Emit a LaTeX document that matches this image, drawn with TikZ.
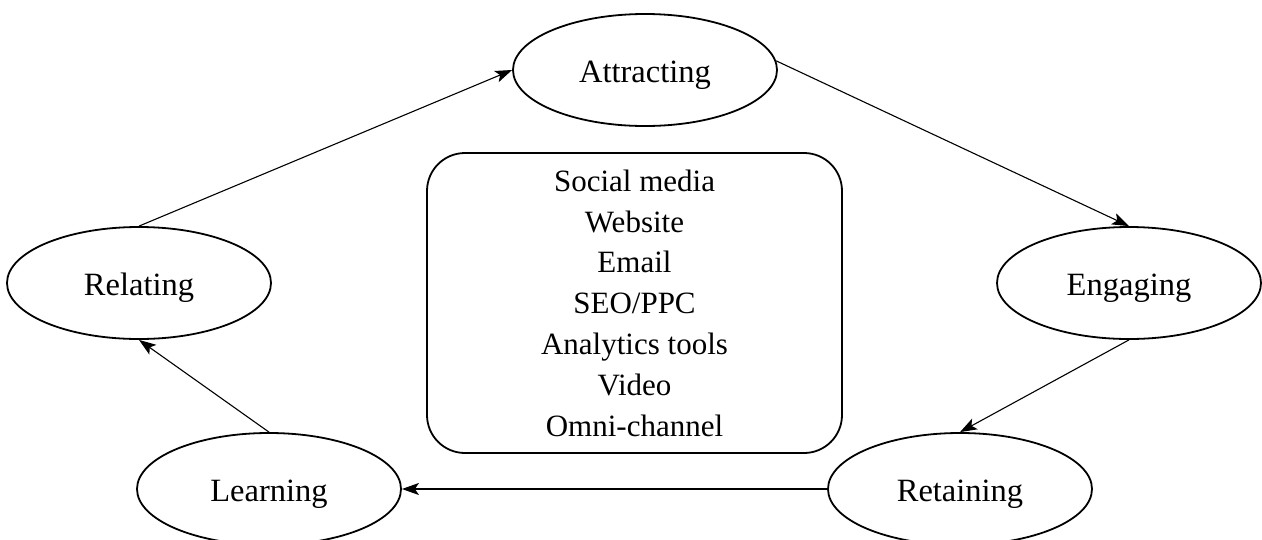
\documentclass[tikz,border=0pt]{standalone}
\usepackage{fontspec}
\setmainfont{Liberation Serif}
\usepackage{tikz}
\usetikzlibrary{arrows.meta,shapes}

\tikzset{
  stage/.style={draw, ellipse, line width=1.8pt, minimum width=264pt,
    minimum height=112pt, inner sep=0pt, text height=24pt, text depth=0pt,
    font=\fontsize{32.5}{40.8}\selectfont},
  tools/.style={draw, rounded corners=38pt, line width=1.8pt, minimum width=415pt,
    minimum height=300pt, align=center},
  flow/.style={line width=1.1pt, -{Stealth[length=17pt,width=12pt,inset=4pt]}}
}

\begin{document}
\begin{tikzpicture}[x=1pt, y=-1pt, font=\fontsize{31}{40.8}\selectfont]
   \useasboundingbox (0,0) rectangle (1262,539);
   % Stages
   \node[stage] (attract) at (645,70) {Attracting};
   \node[stage] (engage) at (1129,283) {Engaging};
   \node[stage] (retain) at (960,489) {Retaining};
   \node[stage] (learn) at (269,489) {Learning};
   \node[stage] (relate) at (139,283) {Relating};
   % Channels
   \node[tools] (channels) at (634.5,303) {Social media\\Website\\Email\\SEO/PPC\\Analytics tools\\Video\\Omni-channel};
   % Cycle
   \draw[flow] (relate.north) -- (attract.west);
   \draw[flow] (attract.4) -- (engage.north);
   \draw[flow] (engage.south) -- (retain.north);
   \draw[flow] (retain.west) -- (learn.east);
   \draw[flow] (learn.north) -- (relate.south);
\end{tikzpicture}
\end{document}
